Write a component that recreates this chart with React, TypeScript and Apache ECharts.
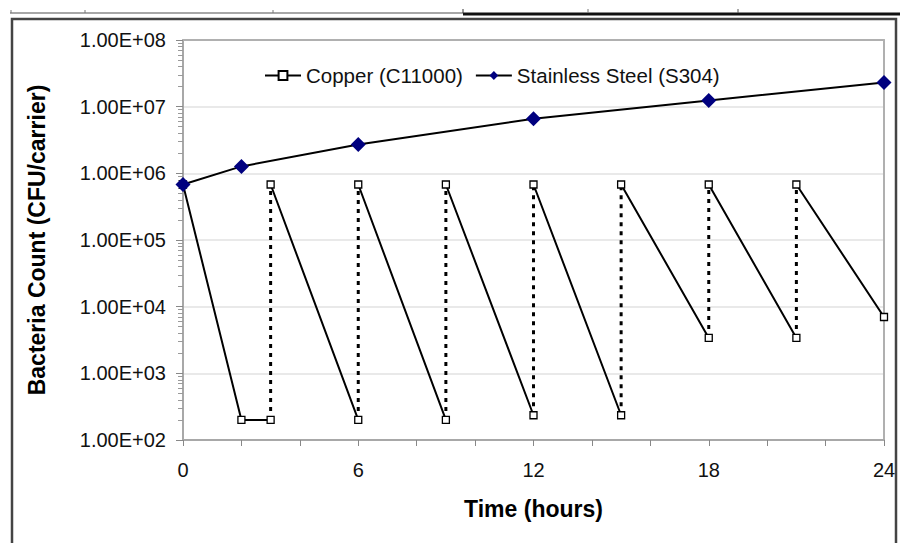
import React, { useEffect, useRef } from "react";
import * as echarts from "echarts";

// Copper (C11000): continuous path, a repeated hour marks a re-inoculation (dotted jump)
const copperHours = [0, 2, 3, 3, 6, 6, 9, 9, 12, 12, 15, 15, 18, 18, 21, 21, 24];
const copperCounts = [680000, 200, 200, 680000, 200, 680000, 200, 680000, 235, 680000, 235, 680000, 3400, 680000, 3400, 680000, 7000];

// Stainless Steel (S304)
const steelHours = [0, 2, 6, 12, 18, 24];
const steelCounts = [680000, 1270000, 2700000, 6600000, 12400000, 23000000];

const xTickLabels = [0, 6, 12, 18, 24];

const FONT = "'Liberation Sans', Arial, sans-serif";

export default function App() {
  const ref = useRef<HTMLDivElement>(null);

  useEffect(() => {
    if (!ref.current) return;
    const chart = echarts.init(ref.current, undefined, { renderer: "svg" });

    const solid: any[] = [];
    const dotted: any[] = [];
    for (let i = 0; i < copperHours.length; i++) {
      if (i > 0 && copperHours[i] === copperHours[i - 1]) {
        solid.push([copperHours[i], null]);
        dotted.push([copperHours[i - 1], copperCounts[i - 1]]);
        dotted.push([copperHours[i], copperCounts[i]]);
        dotted.push([copperHours[i], null]);
      }
      solid.push([copperHours[i], copperCounts[i]]);
    }
    const steel = steelHours.map((h, i) => [h, steelCounts[i]]);

    chart.setOption({
      animation: false,
      backgroundColor: "#fff",
      textStyle: { fontFamily: FONT },
      graphic: [
        { type: "line", shape: { x1: 10, y1: 13, x2: 463, y2: 13 }, style: { stroke: "#8a8a8a", lineWidth: 1.5 } },
        { type: "line", shape: { x1: 463, y1: 14, x2: 900, y2: 14 }, style: { stroke: "#111", lineWidth: 3 } },
        { type: "line", shape: { x1: 11, y1: 10, x2: 11, y2: 13 }, style: { stroke: "#777", lineWidth: 1 } },
        { type: "line", shape: { x1: 85, y1: 10, x2: 85, y2: 13 }, style: { stroke: "#777", lineWidth: 1 } },
        { type: "line", shape: { x1: 273, y1: 10, x2: 273, y2: 13 }, style: { stroke: "#777", lineWidth: 1 } },
        { type: "line", shape: { x1: 463, y1: 9, x2: 463, y2: 13 }, style: { stroke: "#333", lineWidth: 1 } },
        { type: "line", shape: { x1: 588, y1: 9, x2: 588, y2: 13 }, style: { stroke: "#777", lineWidth: 1 } },
        { type: "line", shape: { x1: 738, y1: 9, x2: 738, y2: 13 }, style: { stroke: "#555", lineWidth: 1 } },
        { type: "polyline", shape: { points: [[12, 560], [12, 19], [896, 19], [896, 560]] }, style: { stroke: "#444", lineWidth: 2.5, fill: null } },
      ],
      legend: {
        data: ["Copper (C11000)", "Stainless Steel (S304)"],
        left: 259,
        top: 60,
        itemWidth: 36,
        itemHeight: 11,
        itemGap: 12,
        textStyle: { fontSize: 20.5, color: "#111", fontFamily: FONT },
      },
      grid: { left: 183, right: 16, top: 40, bottom: 103, containLabel: false },
      xAxis: [
        {
          type: "value",
          min: 0,
          max: 24,
          interval: 2,
          name: "Time (hours)",
          nameLocation: "middle",
          nameGap: 57,
          nameTextStyle: { fontSize: 23, fontWeight: "bold", color: "#000", fontFamily: FONT },
          axisLine: { onZero: false, lineStyle: { color: "#a8a8a8", width: 2 } },
          axisTick: { show: true, length: 6, lineStyle: { color: "#888" } },
          axisLabel: {
            fontSize: 20,
            color: "#111",
            margin: 20,
            formatter: (v: number) => (xTickLabels.includes(v) ? String(v) : ""),
          },
          splitLine: { show: false },
        },
        {
          type: "value",
          position: "top",
          min: 0,
          max: 24,
          axisLine: { show: true, onZero: false, lineStyle: { color: "#b0b0b0", width: 2 } },
          axisTick: { show: false },
          axisLabel: { show: false },
          splitLine: { show: false },
        },
      ],
      yAxis: [
        {
          type: "log",
          logBase: 10,
          min: 100,
          max: 100000000,
          name: "Bacteria Count (CFU/carrier)",
          nameLocation: "middle",
          nameGap: 135,
          nameTextStyle: { fontSize: 23, fontWeight: "bold", color: "#000", fontFamily: FONT },
          axisLine: { show: true, onZero: false, lineStyle: { color: "#a8a8a8", width: 2 } },
          axisTick: { show: true, length: 7, lineStyle: { color: "#888" } },
          minorTick: { show: true, splitNumber: 9, length: 5, lineStyle: { color: "#9a9a9a", width: 1 } },
          axisLabel: {
            fontSize: 20,
            color: "#111",
            margin: 17,
            formatter: (v: number) => {
              const e = Math.round(Math.log10(v));
              return "1.00E+" + String(e).padStart(2, "0");
            },
          },
          splitLine: { show: true, lineStyle: { color: "#e2e2e2", width: 1.5 } },
        },
        {
          type: "log",
          logBase: 10,
          min: 100,
          max: 100000000,
          position: "right",
          axisLine: { show: true, onZero: false, lineStyle: { color: "#b0b0b0", width: 2 } },
          axisTick: { show: false },
          axisLabel: { show: false },
          splitLine: { show: false },
        },
      ],
      series: [
        {
          type: "line",
          name: "Copper re-inoculation",
          data: dotted,
          showSymbol: false,
          symbol: "none",
          connectNulls: false,
          lineStyle: { color: "#000", width: 3, type: [4, 5] },
          z: 2,
        },
        {
          type: "line",
          name: "Copper (C11000)",
          data: solid,
          connectNulls: false,
          symbol: "rect",
          symbolSize: 7,
          showAllSymbol: true,
          lineStyle: { color: "#000", width: 2 },
          itemStyle: { color: "#fff", borderColor: "#000", borderWidth: 1.3 },
          z: 3,
        },
        {
          type: "line",
          name: "Stainless Steel (S304)",
          data: steel,
          symbol: "diamond",
          symbolSize: 15,
          showAllSymbol: true,
          lineStyle: { color: "#000", width: 2 },
          itemStyle: { color: "#00007f", borderWidth: 0 },
          z: 4,
        },
      ],
    });

    return () => chart.dispose();
  }, []);

  return (
    <div
      ref={ref}
      style={{ position: "absolute", left: 0, top: 0, width: 900, height: 543 }}
    />
  );
}
